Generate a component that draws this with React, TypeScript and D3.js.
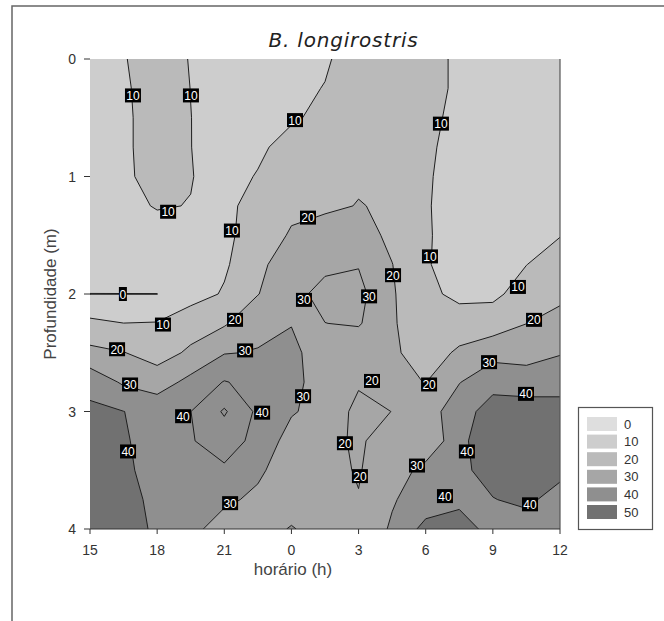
import * as d3 from "d3";
import React from "react";

// grade: horas contínuas (15h -> 12h do dia seguinte = 36), profundidade em m
const times = [15, 16.5, 18, 19.5, 21, 22.5, 24, 25.5, 27, 28.5, 30, 31.5, 33, 34.5, 36];
const depths = [0, 0.25, 0.5, 0.75, 1, 1.25, 1.5, 1.75, 2, 2.25, 2.5, 2.75, 3, 3.25, 3.5, 3.75, 4];

// valores estimados por linha de profundidade (uma linha por depth)
const density = [
  [6, 9.5, 14, 9.6, 7, 6, 7, 9, 14, 15, 12, 9, 6, 5, 5],
  [6, 8.5, 15, 9.9, 7, 6.5, 8, 10.3, 15, 16, 13, 8.5, 6, 5, 5],
  [6, 8, 15, 10.1, 6, 6, 9, 12, 16, 17, 11.5, 8.5, 6, 5, 5],
  [6, 8, 15, 10.1, 6.5, 8.5, 13, 15, 18, 18, 11, 8, 6, 5, 6],
  [6, 8, 14, 10.3, 7, 10.5, 14, 17, 19, 19, 11, 6.5, 6, 6, 6],
  [6, 8, 10.5, 9.8, 9, 11.5, 17.7, 18.5, 20.3, 19, 10.6, 7, 6, 6, 7],
  [5, 6, 7, 7.5, 8.1, 14, 21.1, 24, 24.5, 17.7, 11, 6, 6, 7, 9.7],
  [5, 6, 7, 8, 8.7, 17, 27, 28, 29.5, 20.2, 11, 5, 5, 9.9, 14],
  [-0.1, -0.1, -0.1, 6, 10.9, 19.7, 27, 33, 33, 21, 12, 8, 8, 14, 18],
  [12.2, 10.1, 10.5, 16, 18.9, 27, 29.5, 29.9, 31, 21, 14.2, 14, 15, 19.9, 23],
  [22.7, 20.3, 16.2, 21.5, 29.5, 30.6, 33.6, 22, 22, 22, 14.5, 21.8, 26.6, 27, 29.5],
  [36.7, 28.6, 25, 33, 40.5, 37, 32, 26.7, 21, 22, 19.8, 29.6, 37, 34, 35],
  [42, 40.1, 37, 39.9, 51.2, 38, 31, 26, 17.5, 20.1, 25, 36, 44, 46, 45],
  [45, 41, 36, 39.4, 44, 37.5, 25.6, 21.9, 19, 23.5, 21.8, 37, 48, 48, 47],
  [46, 42, 36, 37, 38.7, 31.9, 24, 22, 19.5, 24.5, 33.4, 37, 45, 47, 44],
  [48, 45.5, 36, 34, 32, 27.8, 23, 22, 20.3, 29.3, 34, 38, 39.5, 43, 34],
  [49, 46.7, 37.5, 33, 25, 24, 31, 24, 24.3, 31, 43.2, 44, 37, 33, 34],
];

const levels = [0, 10, 20, 30, 40, 50];
const bandFills = ["#cdcdcd", "#bababa", "#a6a6a6", "#8f8f8f", "#717171", "#5c5c5c"];
const legendFills = ["#dedede", "#cdcdcd", "#bababa", "#a6a6a6", "#8f8f8f", "#717171"];

const xTicks = [15, 18, 21, 24, 27, 30, 33, 36];
const xTickLabels = ["15", "18", "21", "0", "3", "6", "9", "12"];
const yTicks = [0, 1, 2, 3, 4];

// rótulos das isolinhas (hora, profundidade, texto)
const contourLabels = [
  { h: 16.92, d: 0.31, v: "10" },
  { h: 19.51, d: 0.31, v: "10" },
  { h: 24.16, d: 0.52, v: "10" },
  { h: 18.49, d: 1.3, v: "10" },
  { h: 21.34, d: 1.46, v: "10" },
  { h: 30.68, d: 0.55, v: "10" },
  { h: 30.19, d: 1.68, v: "10" },
  { h: 34.12, d: 1.94, v: "10" },
  { h: 18.26, d: 2.26, v: "10" },
  { h: 16.47, d: 2.0, v: "0" },
  { h: 24.74, d: 1.35, v: "20" },
  { h: 28.54, d: 1.84, v: "20" },
  { h: 21.48, d: 2.22, v: "20" },
  { h: 16.21, d: 2.47, v: "20" },
  { h: 34.84, d: 2.22, v: "20" },
  { h: 30.15, d: 2.77, v: "20" },
  { h: 27.6, d: 2.74, v: "20" },
  { h: 26.39, d: 3.27, v: "20" },
  { h: 27.06, d: 3.55, v: "20" },
  { h: 24.56, d: 2.05, v: "30" },
  { h: 27.47, d: 2.02, v: "30" },
  { h: 21.93, d: 2.48, v: "30" },
  { h: 16.79, d: 2.77, v: "30" },
  { h: 24.52, d: 2.87, v: "30" },
  { h: 32.83, d: 2.58, v: "30" },
  { h: 29.61, d: 3.46, v: "30" },
  { h: 21.26, d: 3.78, v: "30" },
  { h: 19.16, d: 3.04, v: "40" },
  { h: 22.69, d: 3.01, v: "40" },
  { h: 16.7, d: 3.34, v: "40" },
  { h: 34.48, d: 2.85, v: "40" },
  { h: 31.84, d: 3.34, v: "40" },
  { h: 30.86, d: 3.72, v: "40" },
  { h: 34.66, d: 3.79, v: "40" },
];

const font = "'Liberation Sans', Arial, sans-serif";

export default function App() {
  const x = d3.scaleLinear().domain([15, 36]).range([90, 560]);
  const y = d3.scaleLinear().domain([0, 4]).range([59, 529]);

  const nx = times.length;
  const ny = depths.length;
  // d3.contours coloca o valor i na coordenada i + 0.5
  const gx = d3.scaleLinear().domain([0.5, nx - 0.5]).range([x(times[0]), x(times[nx - 1])]);
  const gy = d3.scaleLinear().domain([0.5, ny - 0.5]).range([y(depths[0]), y(depths[ny - 1])]);
  const path = d3.geoPath(
    d3.geoTransform({
      point(px: number, py: number) {
        this.stream.point(gx(px), gy(py));
      },
    })
  );

  const bands = d3.contours().size([nx, ny]).thresholds(levels)(density.flat());

  const touchesEdge = (ring: number[][]) =>
    ring.some(([a, b]) => a === 0 || b === 0 || a === nx || b === ny);

  // preenchimento só das regiões ligadas à borda (ilhas ficam com a cor de fora, como no original)
  const fillShapes = bands.map((band: any) => ({
    type: "MultiPolygon",
    coordinates: band.coordinates
      .filter((poly: number[][][]) => touchesEdge(poly[0]))
      .map((poly: number[][][]) => [poly[0]]),
  }));

  const [x0, x1] = x.range();
  const [y0, y1] = y.range();

  return (
    <svg
      width={664}
      height={621}
      style={{ position: "absolute", left: 0, top: 0, display: "block", background: "#fff" }}
    >
      <defs>
        <clipPath id="plotClip">
          <rect x={x0} y={y0} width={x1 - x0} height={y1 - y0} />
        </clipPath>
      </defs>

      {/* moldura */}
      <path d="M12,621V6H664" fill="none" stroke="#666" strokeWidth={1.5} />

      <text
        x={343.5}
        y={47}
        textAnchor="middle"
        fontFamily="'DejaVu Sans', Verdana, sans-serif"
        fontStyle="italic"
        fontSize={20}
        letterSpacing={0.8}
        fill="#222"
      >
        B. longirostris
      </text>

      <g clipPath="url(#plotClip)">
        {fillShapes.map((shape, i) => (
          <path key={"f" + i} d={path(shape as any) || ""} fill={bandFills[i]} stroke="none" />
        ))}
        {bands.map((band: any, i: number) => (
          <path key={"l" + i} d={path(band) || ""} fill="none" stroke="#1e1e1e" strokeWidth={1} />
        ))}
      </g>

      {/* eixos */}
      <line x1={x1} y1={y0} x2={x1} y2={y1} stroke="#555" strokeWidth={1.2} />
      <line x1={x0} y1={y1} x2={x1} y2={y1} stroke="#333" strokeWidth={1.2} />
      {xTicks.map((t, i) => (
        <g key={"xt" + i}>
          <line x1={x(t)} y1={y1} x2={x(t)} y2={y1 + 5} stroke="#333" />
          <text x={x(t)} y={555} textAnchor="middle" fontFamily={font} fontSize={14} fill="#333">
            {xTickLabels[i]}
          </text>
        </g>
      ))}
      {yTicks.map((t) => (
        <g key={"yt" + t}>
          <line x1={x0 - 6} y1={y(t)} x2={x0} y2={y(t)} stroke="#333" />
          <text x={76} y={y(t) + 5} textAnchor="end" fontFamily={font} fontSize={14} fill="#333">
            {t}
          </text>
        </g>
      ))}
      <text x={293} y={575} textAnchor="middle" fontFamily={font} fontSize={17} fill="#444">
        horário (h)
      </text>
      <text
        transform={`translate(56, ${y(2)}) rotate(-90)`}
        textAnchor="middle"
        fontFamily={font}
        fontSize={17}
        fill="#444"
      >
        Profundidade (m)
      </text>

      {/* rótulos das isolinhas */}
      {contourLabels.map((lb, i) => {
        const w = lb.v.length === 1 ? 8 : 16;
        return (
          <g key={"cl" + i} transform={`translate(${x(lb.h)}, ${y(lb.d)})`}>
            <rect x={-w / 2} y={-7} width={w} height={14} fill="#000" />
            <text y={4.5} textAnchor="middle" fontFamily={font} fontSize={12} fill="#fff">
              {lb.v}
            </text>
          </g>
        );
      })}

      {/* legenda */}
      <rect x={578.5} y={407.5} width={74} height={122} fill="#fff" stroke="#555" strokeWidth={1.2} />
      {levels.map((lv, i) => (
        <g key={"lg" + i}>
          <rect x={587} y={417 + i * 17.6} width={30} height={14} fill={legendFills[i]} />
          <text x={624} y={428.5 + i * 17.6} fontFamily={font} fontSize={13} fill="#333">
            {lv}
          </text>
        </g>
      ))}
    </svg>
  );
}
